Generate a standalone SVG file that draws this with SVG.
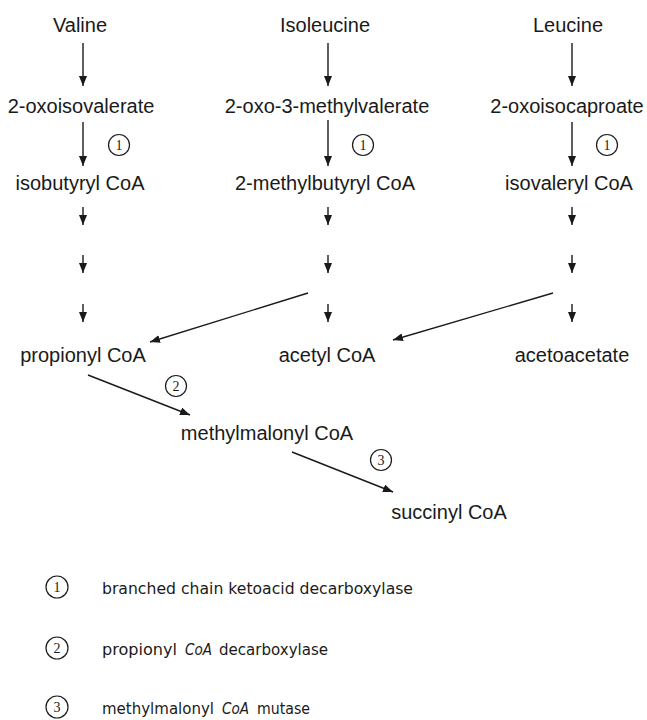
<svg xmlns="http://www.w3.org/2000/svg" width="647" height="720" viewBox="0 0 647 720">
<style>
.t{font-family:"Liberation Sans",Arial,sans-serif;font-size:20px;fill:#1a1a1a;text-anchor:middle}
.c{fill:none;stroke:#1a1a1a;stroke-width:1.2}
.n{font-family:"Liberation Serif","Times New Roman",serif;font-size:14px;fill:#1a1a1a;text-anchor:middle}
.l{font-family:"DejaVu Sans",sans-serif;font-size:16px;fill:#1a1a1a}
.i{font-style:italic}
.a{stroke:#1a1a1a;stroke-width:1.4;fill:none;marker-end:url(#ah)}
</style>
<defs>
<marker id="ah" viewBox="0 0 10 8" refX="10" refY="4" markerWidth="10" markerHeight="8" markerUnits="userSpaceOnUse" orient="auto">
<path d="M0,0 L10,4 L0,8 Z" fill="#1a1a1a"/>
</marker>
</defs>
<rect width="647" height="720" fill="#ffffff"/>
<g id="connectors">
<line class="a" x1="83" y1="43" x2="83" y2="86"/>
<line class="a" x1="328" y1="43" x2="328" y2="86"/>
<line class="a" x1="572" y1="43" x2="572" y2="86"/>
<line class="a" x1="83" y1="122" x2="83" y2="166"/>
<line class="a" x1="328" y1="120" x2="328" y2="166"/>
<line class="a" x1="572" y1="122" x2="572" y2="166"/>
<line class="a" x1="83" y1="207" x2="83" y2="225"/>
<line class="a" x1="328" y1="207" x2="328" y2="225"/>
<line class="a" x1="572" y1="207" x2="572" y2="225"/>
<line class="a" x1="83" y1="255" x2="83" y2="273"/>
<line class="a" x1="328" y1="255" x2="328" y2="273"/>
<line class="a" x1="572" y1="255" x2="572" y2="273"/>
<line class="a" x1="83" y1="304" x2="83" y2="322"/>
<line class="a" x1="328" y1="304" x2="328" y2="322"/>
<line class="a" x1="572" y1="304" x2="572" y2="322"/>
<line class="a" x1="308" y1="293" x2="150" y2="342"/>
<line class="a" x1="553" y1="293" x2="393" y2="340"/>
<line class="a" x1="88" y1="375" x2="190" y2="415"/>
<line class="a" x1="292" y1="452" x2="393" y2="492"/>
</g>
<g id="valine"><text class="t" x="80" y="32">Valine</text></g>
<g id="isoleucine"><text class="t" x="325" y="32">Isoleucine</text></g>
<g id="leucine"><text class="t" x="568" y="32">Leucine</text></g>
<g id="oxoisovalerate"><text class="t" x="81" y="113">2-oxoisovalerate</text></g>
<g id="oxomethylvalerate"><text class="t" x="327" y="113">2-oxo-3-methylvalerate</text></g>
<g id="oxoisocaproate"><text class="t" x="567" y="113">2-oxoisocaproate</text></g>
<g id="isobutyryl"><text class="t" x="80" y="190">isobutyryl CoA</text></g>
<g id="methylbutyryl"><text class="t" x="325" y="190">2-methylbutyryl CoA</text></g>
<g id="isovaleryl"><text class="t" x="569" y="190">isovaleryl CoA</text></g>
<g id="propionyl"><text class="t" x="83" y="362">propionyl CoA</text></g>
<g id="acetyl"><text class="t" x="327" y="362">acetyl CoA</text></g>
<g id="acetoacetate"><text class="t" x="572" y="362">acetoacetate</text></g>
<g id="methylmalonyl"><text class="t" x="267" y="440">methylmalonyl CoA</text></g>
<g id="succinyl"><text class="t" x="449" y="519">succinyl CoA</text></g>
<g id="enzyme-labels">
<circle class="c" cx="119" cy="145" r="10.5"/><text class="n" x="119" y="150">1</text>
<circle class="c" cx="363" cy="145" r="10.5"/><text class="n" x="363" y="150">1</text>
<circle class="c" cx="607" cy="145" r="10.5"/><text class="n" x="607" y="150">1</text>
<circle class="c" cx="176" cy="386" r="10.5"/><text class="n" x="176" y="391">2</text>
<circle class="c" cx="381" cy="460" r="10.5"/><text class="n" x="381" y="465">3</text>
</g>
<g id="legend">
<circle class="c" cx="57" cy="587" r="11"/><text class="n" x="57" y="592">1</text>
<text class="l" x="102" y="594" textLength="311" lengthAdjust="spacingAndGlyphs">branched chain ketoacid decarboxylase</text>
<circle class="c" cx="57" cy="648" r="11"/><text class="n" x="57" y="653">2</text>
<text class="l" x="102" y="655" textLength="75" lengthAdjust="spacingAndGlyphs">propionyl</text>
<text class="l i" x="185" y="655" textLength="27" lengthAdjust="spacingAndGlyphs">CoA</text>
<text class="l" x="219" y="655" textLength="109" lengthAdjust="spacingAndGlyphs">decarboxylase</text>
<circle class="c" cx="57" cy="707" r="11"/><text class="n" x="57" y="712">3</text>
<text class="l" x="102" y="714" textLength="112" lengthAdjust="spacingAndGlyphs">methylmalonyl</text>
<text class="l i" x="222" y="714" textLength="27" lengthAdjust="spacingAndGlyphs">CoA</text>
<text class="l" x="257" y="714" textLength="53" lengthAdjust="spacingAndGlyphs">mutase</text>
</g>
</svg>
